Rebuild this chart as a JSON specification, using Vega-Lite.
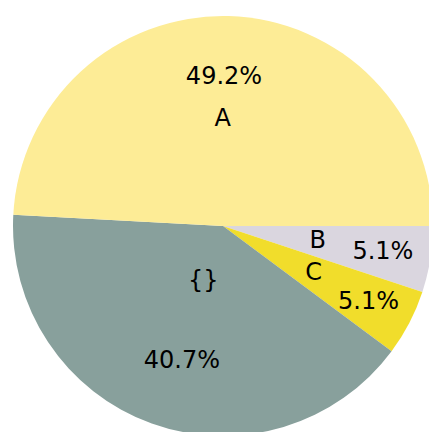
{
  "$schema": "https://vega.github.io/schema/vega-lite/v6.json",
  "width": 446,
  "height": 452,
  "padding": 0,
  "autosize": {"type": "none"},
  "background": "white",
  "view": {"stroke": null},
  "data": {"values": [
    {"label": "B", "count": 3, "pct": "5.1%", "idx": 1},
    {"label": "C", "count": 3, "pct": "5.1%", "idx": 2},
    {"label": "{}", "count": 24, "pct": "40.7%", "idx": 3},
    {"label": "A", "count": 29, "pct": "49.2%", "idx": 4}
  ]},
  "encoding": {
    "theta": {"field": "count", "type": "quantitative", "stack": true, "scale": {"range": [1.5707963, 7.8539816]}},
    "order": {"field": "idx", "type": "quantitative"}
  },
  "layer": [
    {
      "mark": {"type": "arc", "outerRadius": 210, "stroke": null},
      "encoding": {
        "color": {"field": "label", "type": "nominal", "legend": null,
          "scale": {"domain": ["A", "B", "C", "{}"], "range": ["#FDEC96", "#DAD6DF", "#F1DD2B", "#88A09C"]}}
      }
    },
    {
      "mark": {"type": "text", "radius": 149, "thetaOffset": -0.02, "font": "DejaVu Sans", "fontSize": 24, "color": "#000000"},
      "encoding": {"text": {"condition": {"test": "datum.label !== 'A'", "value": ""}, "field": "pct"}}
    },
    {
      "mark": {"type": "text", "radius": 162, "font": "DejaVu Sans", "fontSize": 24, "color": "#000000"},
      "encoding": {"text": {"condition": {"test": "datum.label !== 'B'", "value": ""}, "field": "pct"}}
    },
    {
      "mark": {"type": "text", "radius": 164, "font": "DejaVu Sans", "fontSize": 24, "color": "#000000"},
      "encoding": {"text": {"condition": {"test": "datum.label !== 'C'", "value": ""}, "field": "pct"}}
    },
    {
      "mark": {"type": "text", "radius": 141, "thetaOffset": -0.05, "font": "DejaVu Sans", "fontSize": 24, "color": "#000000"},
      "encoding": {"text": {"condition": {"test": "datum.label !== '{}'", "value": ""}, "field": "pct"}}
    },
    {
      "mark": {"type": "text", "radius": 107, "thetaOffset": -0.03, "font": "DejaVu Sans", "fontSize": 24, "color": "#000000"},
      "encoding": {"text": {"condition": {"test": "datum.label !== 'A'", "value": ""}, "field": "label"}}
    },
    {
      "mark": {"type": "text", "radius": 96, "font": "DejaVu Sans", "fontSize": 24, "color": "#000000"},
      "encoding": {"text": {"condition": {"test": "datum.label !== 'B'", "value": ""}, "field": "label"}}
    },
    {
      "mark": {"type": "text", "radius": 102, "font": "DejaVu Sans", "fontSize": 24, "color": "#000000"},
      "encoding": {"text": {"condition": {"test": "datum.label !== 'C'", "value": ""}, "field": "label"}}
    },
    {
      "mark": {"type": "text", "radius": 58, "font": "DejaVu Sans", "fontSize": 24, "color": "#000000"},
      "encoding": {"text": {"condition": {"test": "datum.label !== '{}'", "value": ""}, "field": "label"}}
    }
  ]
}
